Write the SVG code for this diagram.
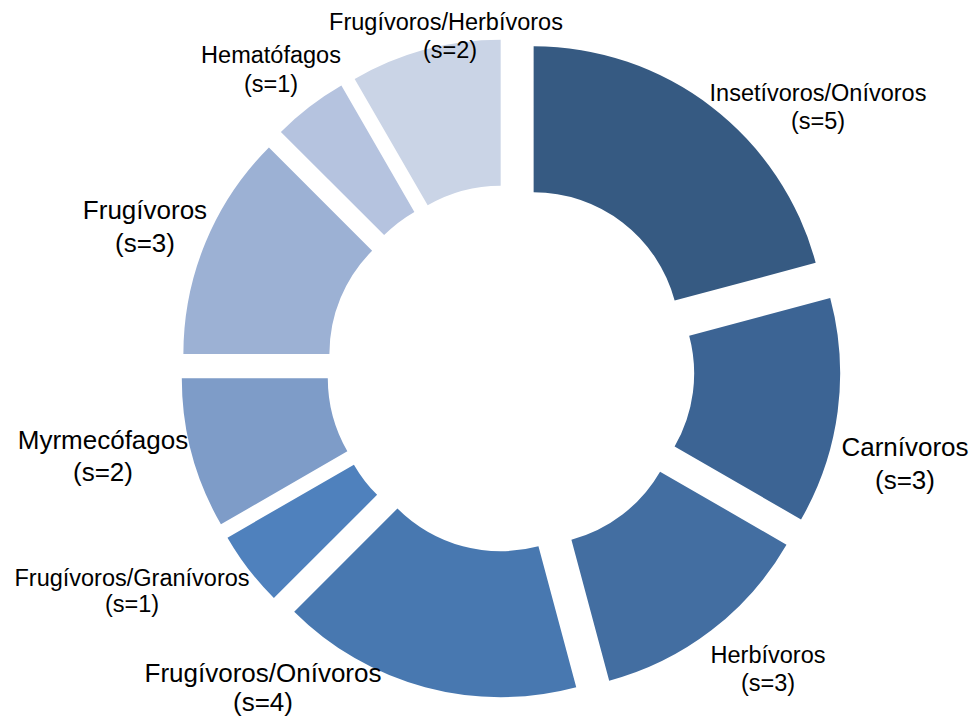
<svg xmlns="http://www.w3.org/2000/svg" width="973" height="717" viewBox="0 0 973 717">
<style>
.lbl{font-family:"Liberation Sans",Arial,sans-serif;fill:#000;text-anchor:middle}
.sm{font-size:23.5px}
.lg{font-size:26px}
</style>
<rect width="973" height="717" fill="#fff"/>
<g id="slices">
<g id="insetivoros-onivoros"><path fill="#365A82" d="M533.63 46.35 A292 292 0 0 1 815.67 262.78 L674.65 300.57 A146 146 0 0 0 533.63 192.35 Z"/></g>
<g id="carnivoros"><path fill="#3C6494" d="M830.21 297.89 A292 292 0 0 1 801.04 519.46 L674.61 446.46 A146 146 0 0 0 689.19 335.68 Z"/></g>
<g id="herbivoros"><path fill="#436EA1" d="M786.5 544.65 A292 292 0 0 1 609.2 680.69 L571.41 539.67 A146 146 0 0 0 660.07 471.65 Z"/></g>
<g id="frugivoros-onivoros"><path fill="#4878B0" d="M576.24 687.24 A292 292 0 0 1 294.2 611.67 L397.43 508.44 A146 146 0 0 0 538.45 546.22 Z"/></g>
<g id="frugivoros-granivoros"><path fill="#4F81BD" d="M273.88 598.1 A292 292 0 0 1 227.48 537.63 L353.91 464.63 A146 146 0 0 0 377.11 494.87 Z"/></g>
<g id="myrmecofagos"><path fill="#7E9CC8" d="M220.93 524.33 A292 292 0 0 1 181.8 378.33 L327.8 378.33 A146 146 0 0 0 347.36 451.33 Z"/></g>
<g id="frugivoros"><path fill="#9CB1D4" d="M183.39 353.96 A292 292 0 0 1 268.92 147.49 L372.15 250.72 A146 146 0 0 0 329.39 353.96 Z"/></g>
<g id="hematofagos"><path fill="#B5C3DF" d="M280.9 131.88 A292 292 0 0 1 341.37 85.48 L414.37 211.91 A146 146 0 0 0 384.13 235.11 Z"/></g>
<g id="frugivoros-herbivoros"><path fill="#CAD4E6" d="M354.67 78.93 A292 292 0 0 1 500.67 39.8 L500.67 185.8 A146 146 0 0 0 427.67 205.36 Z"/></g>
</g>
<g id="labels">
<text class="lbl sm" x="446" y="30">Frugívoros/Herbívoros</text>
<text class="lbl sm" x="450" y="58">(s=2)</text>
<text class="lbl sm" x="271" y="63">Hematófagos</text>
<text class="lbl sm" x="271" y="92">(s=1)</text>
<text class="lbl sm" x="818" y="101">Insetívoros/Onívoros</text>
<text class="lbl sm" x="818" y="129">(s=5)</text>
<text class="lbl lg" x="145" y="219">Frugívoros</text>
<text class="lbl lg" x="145" y="252">(s=3)</text>
<text class="lbl lg" x="905" y="456">Carnívoros</text>
<text class="lbl lg" x="905" y="489">(s=3)</text>
<text class="lbl lg" x="103" y="449">Myrmecófagos</text>
<text class="lbl lg" x="103" y="481">(s=2)</text>
<text class="lbl sm" x="132" y="586">Frugívoros/Granívoros</text>
<text class="lbl sm" x="132" y="612">(s=1)</text>
<text class="lbl sm" x="768" y="663">Herbívoros</text>
<text class="lbl sm" x="768" y="691">(s=3)</text>
<text class="lbl lg" x="263" y="682">Frugívoros/Onívoros</text>
<text class="lbl lg" x="263" y="711">(s=4)</text>
</g>
</svg>
